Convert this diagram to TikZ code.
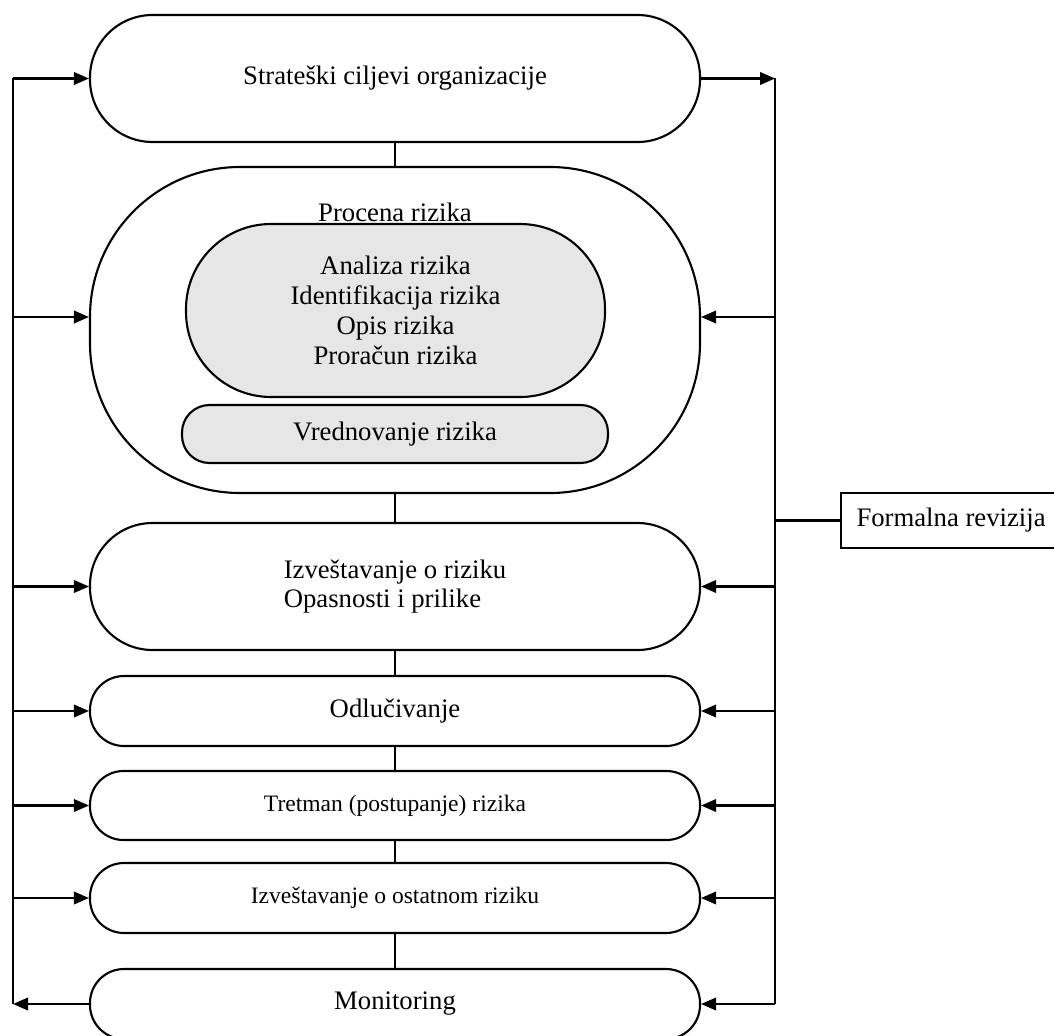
\documentclass[tikz,border=0pt]{standalone}
\usepackage{fontspec}
\setmainfont{Liberation Serif}
\usepackage{tikz}
\usetikzlibrary{arrows.meta,calc}
\definecolor{lightgrey}{RGB}{230,230,230}
\tikzset{%
  stage/.style={draw, line width=1.2pt, minimum width=12.2cm, inner sep=0pt,
    font=\fontsize{15.2}{17}\selectfont, align=center},% main process step
  substage/.style={stage, fill=lightgrey},% step inside the assessment
  small/.style={font=\fontsize{13.4}{16}\selectfont},
  link/.style={line width=1.2pt},
  feed/.style={link, -{Triangle[length=3mm,width=2.5mm]}}% feedback arrows
}

\begin{document}
\begin{tikzpicture}
\useasboundingbox (0,0) rectangle (21.08,-20.70);
\def\xl{0.26}
\def\xr{15.5}
\def\xm{7.9}

\node[stage, minimum height=2.54cm, rounded corners=1.25cm] (strat) at (\xm,-1.57) {Strateški ciljevi organizacije};
\node[stage, minimum height=6.52cm, rounded corners=3.0cm] (proc) at (\xm,-6.6) {};
\node[font=\fontsize{15.2}{17}\selectfont] (proct) at (\xm,-4.24) {Procena rizika};
\node[substage, minimum width=8.38cm, minimum height=3.46cm, rounded corners=1.7cm] (anal) at (7.91,-6.21)
  {Analiza rizika\\Identifikacija rizika\\Opis rizika\\Proračun rizika};
\node[substage, minimum width=8.52cm, minimum height=1.16cm, rounded corners=0.55cm] (vred) at (\xm,-8.68) {Vrednovanje rizika};
\node[stage, minimum height=2.54cm, rounded corners=1.25cm, align=left] (izv) at (\xm,-11.73)
  {Izveštavanje o riziku\\Opasnosti i prilike};
\node[stage, minimum height=1.4cm, rounded corners=0.68cm] (odl) at (\xm,-14.22) {Odlučivanje};
\node[stage, small, minimum height=1.38cm, rounded corners=0.67cm] (tret) at (\xm,-16.11) {Tretman (postupanje) rizika};
\node[stage, small, minimum height=1.4cm, rounded corners=0.68cm] (ost) at (\xm,-17.96) {Izveštavanje o ostatnom riziku};
\node[stage, minimum height=1.4cm, rounded corners=0.68cm] (mon) at (\xm,-20.08) {Monitoring};
\node[draw, line width=1.2pt, anchor=west, minimum width=4.4cm, minimum height=1.1cm,
  font=\fontsize{15.2}{17}\selectfont] (rev) at (16.8,-10.41) {Formalna revizija};

\coordinate (L) at (\xl,0);
\coordinate (R) at (\xr,0);
\coordinate (procin) at ([yshift=0.26cm]proc.west);
\coordinate (procout) at ([yshift=0.26cm]proc.east);

% chain of steps
\foreach \a/\b in {strat/proc, proc/izv, izv/odl, odl/tret, tret/ost, ost/mon}
  \draw[link] (\a.south) -- (\b.north);

% feedback lines
\draw[link] (L |- strat.west) -- (L |- mon.west);
\draw[link] (R |- strat.east) -- (R |- mon.east);
\draw[feed] (mon.west) -- (L |- mon.west);
\draw[feed] (strat.east) -- (R |- strat.east);
\draw[feed] (L |- procin) -- (procin);
\draw[feed] (R |- procout) -- (procout);
\foreach \n in {strat, izv, odl, tret, ost}
  \draw[feed] (L |- \n.west) -- (\n.west);
\foreach \n in {izv, odl, tret, ost, mon}
  \draw[feed] (R |- \n.east) -- (\n.east);
\draw[link] (R |- rev.west) -- (rev.west);

\end{tikzpicture}
\end{document}
